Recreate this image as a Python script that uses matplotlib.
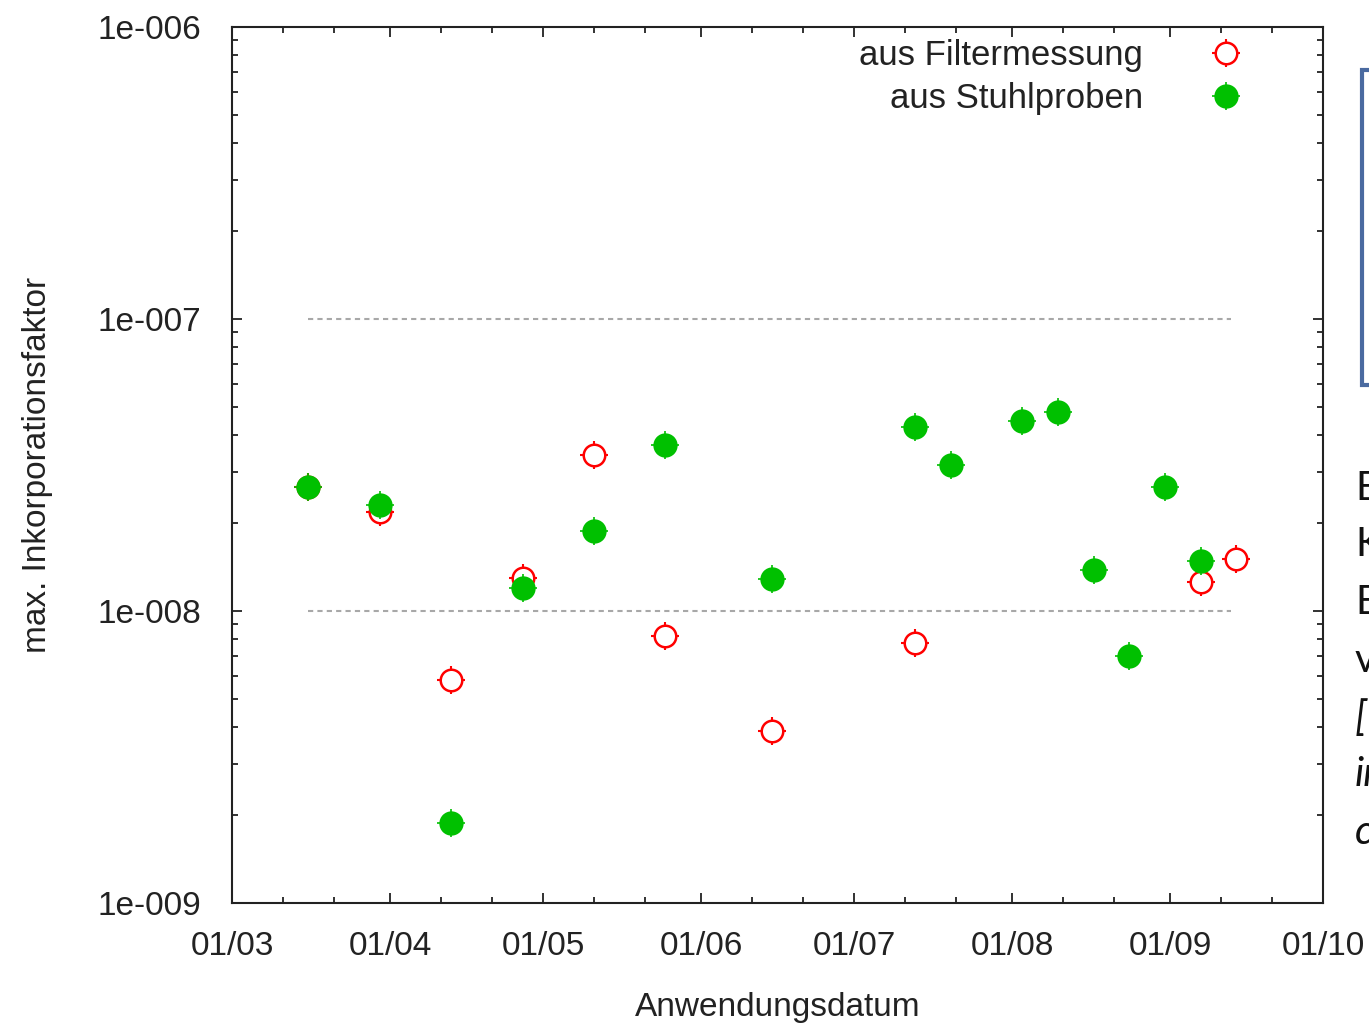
import numpy as np
import matplotlib
matplotlib.use("Agg")
import matplotlib.pyplot as plt
import matplotlib.dates as mdates
from matplotlib.ticker import FixedLocator, FuncFormatter, LogLocator, NullFormatter
from matplotlib.patches import Rectangle
from matplotlib.legend_handler import HandlerTuple

# ---------------- data ----------------
filter_dates = ["2011-03-16", "2011-03-30", "2011-04-13", "2011-04-27", "2011-05-11",
                "2011-05-25", "2011-06-15", "2011-07-13", "2011-09-07", "2011-09-14"]
filter_values = [2.66e-8, 2.18e-8, 5.8e-9, 1.30e-8, 3.42e-8,
                 8.2e-9, 3.88e-9, 7.77e-9, 1.26e-8, 1.51e-8]

stuhl_dates = ["2011-03-16", "2011-03-30", "2011-04-13", "2011-04-27", "2011-05-11",
               "2011-05-25", "2011-06-15", "2011-07-13", "2011-07-20", "2011-08-03",
               "2011-08-10", "2011-08-17", "2011-08-24", "2011-08-31", "2011-09-07"]
stuhl_values = [2.66e-8, 2.31e-8, 1.88e-9, 1.20e-8, 1.88e-8,
                3.70e-8, 1.29e-8, 4.27e-8, 3.16e-8, 4.47e-8,
                4.8e-8, 1.38e-8, 7.0e-9, 2.66e-8, 1.48e-8]

limit_dates = ["2011-03-16", "2011-09-13"]
limit_upper = [1e-7, 1e-7]
limit_lower = [1e-8, 1e-8]

x_tick_dates = ["2011-03-01", "2011-04-01", "2011-05-01", "2011-06-01",
                "2011-07-01", "2011-08-01", "2011-09-01", "2011-10-01"]
x_tick_labels = ["01/03", "01/04", "01/05", "01/06", "01/07", "01/08", "01/09", "01/10"]
y_ticks = [1e-9, 1e-8, 1e-7, 1e-6]
y_tick_labels = ["1e-009", "1e-008", "1e-007", "1e-006"]

legend_labels = ["aus Filtermessung", "aus Stuhlproben"]
x_label = "Anwendungsdatum"
y_label = "max. Inkorporationsfaktor"
side_text = ["E", "K", "E", "v", "[", "in", "c"]
side_italic = [False, False, False, False, True, True, True]

# ---------------- style ----------------
plt.rcParams['font.family'] = ['Liberation Sans', 'DejaVu Sans']
TXT = "#222222"
RED = "#ff0000"
GREEN = "#00c000"

W, H = 1369, 1024
fig = plt.figure(figsize=(W / 100, H / 100), dpi=100)
ax = fig.add_axes([232 / W, 1 - 903 / H, (1323 - 232) / W, (903 - 27) / H])

def to_num(ds):
    return mdates.date2num(np.array(ds, dtype="datetime64[D]"))

fx = to_num(filter_dates)
sx = to_num(stuhl_dates)
lx = to_num(limit_dates)

# limit lines
ax.plot(lx, limit_upper, color="#a8a8a8", lw=1.5, ls=(0, (2.5, 2)), zorder=1)
ax.plot(lx, limit_lower, color="#a8a8a8", lw=1.5, ls=(0, (2.5, 2)), zorder=1)

# filter: red open circles with small tick marks
r_plus, = ax.plot(fx, filter_values, ls="none", marker="+", ms=20, mew=1.5,
                  color=RED, zorder=3)
r_circ, = ax.plot(fx, filter_values, ls="none", marker="o", ms=15.5, mew=1.8,
                  mfc="white", mec=RED, zorder=4)
# stuhl: green filled circles
g_plus, = ax.plot(sx, stuhl_values, ls="none", marker="+", ms=20, mew=1.2,
                  color=GREEN, zorder=5)
g_circ, = ax.plot(sx, stuhl_values, ls="none", marker="o", ms=17.5, mew=0,
                  mfc=GREEN, mec=GREEN, zorder=6)

ax.set_yscale("log")
ax.set_ylim(1e-9, 1e-6)
ax.set_xlim(to_num(["2011-03-01"])[0], to_num(["2011-10-01"])[0])

ax.yaxis.set_major_locator(FixedLocator(y_ticks))
ax.yaxis.set_major_formatter(FuncFormatter(lambda v, p: y_tick_labels[y_ticks.index(min(y_ticks, key=lambda t: abs(np.log10(t) - np.log10(v))))]))
ax.yaxis.set_minor_locator(LogLocator(base=10, subs=np.arange(2, 10)))
ax.yaxis.set_minor_formatter(NullFormatter())

xt = to_num(x_tick_dates)
ax.xaxis.set_major_locator(FixedLocator(xt))
ax.set_xticklabels(x_tick_labels)
minor_dates = []
for d in x_tick_dates[:-1]:
    minor_dates += [d[:-2] + "11", d[:-2] + "21"]
ax.xaxis.set_minor_locator(FixedLocator(to_num(minor_dates)))

ax.tick_params(which="both", direction="in", top=True, right=True, color="#222222")
ax.tick_params(which="major", length=7, width=1.3)
ax.tick_params(which="minor", length=4, width=1.3)
ax.tick_params(axis="x", which="major", pad=20, labelsize=24, labelcolor=TXT)
ax.tick_params(axis="y", which="major", pad=22, labelsize=24, labelcolor=TXT)
for s in ax.spines.values():
    s.set_linewidth(1.5)
    s.set_color("#222222")

ax.set_xlabel(x_label, fontsize=24, color=TXT, labelpad=22)
ax.set_ylabel(y_label, fontsize=24, color=TXT, labelpad=32)

leg = ax.legend([(r_plus, r_circ), (g_plus, g_circ)], legend_labels,
                handler_map={tuple: HandlerTuple(ndivide=1, pad=0)},
                loc="upper right", bbox_to_anchor=(1 - 76 / (1323 - 232), 1.0 - 12 / 876),
                frameon=False, markerfirst=False, fontsize=25, labelspacing=0.28,
                handlelength=1.2, handletextpad=1.8, borderaxespad=0, borderpad=0)
for t in leg.get_texts():
    t.set_color(TXT)

# slide remnants on the right
fig.add_artist(Rectangle((1362 / W, 1 - 385 / H), 0.2, (385 - 70) / H,
                         transform=fig.transFigure, facecolor="white",
                         edgecolor="#4a6aa0", lw=3, zorder=0))
ys = [488, 545, 603, 660, 718, 775, 833]
for txt, it, yy in zip(side_text, side_italic, ys):
    fig.text(1355 / W, 1 - yy / H, txt, fontsize=29, family=["Lato", "DejaVu Sans"],
             style="italic" if it else "normal", va="center", ha="left", color="#111111")

fig.savefig("out.png", dpi=100)
